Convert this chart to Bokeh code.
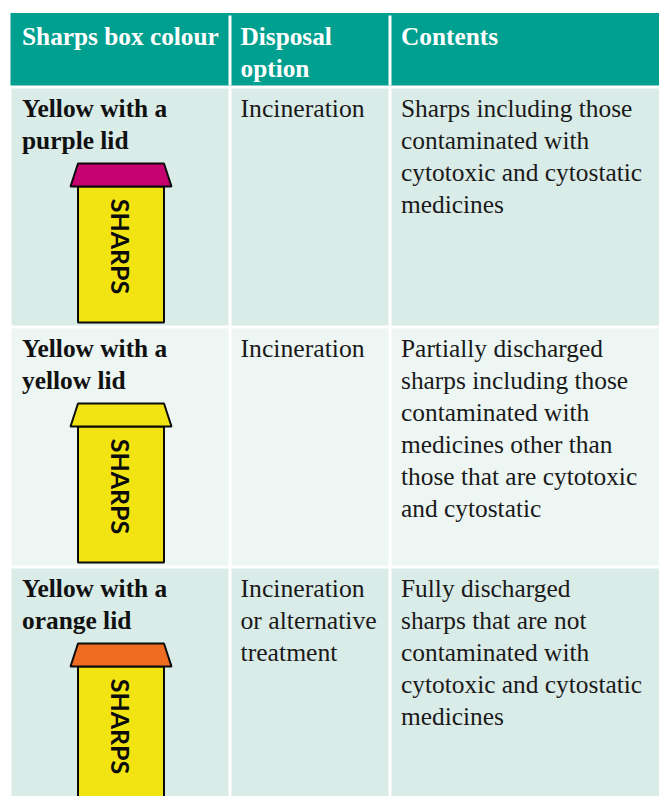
from bokeh.plotting import figure
from bokeh.models import ColumnDataSource, Range1d
from bokeh.core.properties import value
from bokeh.embed import file_html
from bokeh.resources import INLINE
import math

# ---- content ----
headers = [["Sharps box colour"], ["Disposal", "option"], ["Contents"]]
row_titles = [["Yellow with a", "purple lid"], ["Yellow with a", "yellow lid"], ["Yellow with a", "orange lid"]]
row_disposal = [["Incineration"], ["Incineration"], ["Incineration", "or alternative", "treatment"]]
row_contents = [
    ["Sharps including those", "contaminated with", "cytotoxic and cytostatic", "medicines"],
    ["Partially discharged", "sharps including those", "contaminated with", "medicines other than", "those that are cytotoxic", "and cytostatic"],
    ["Fully discharged", "sharps that are not", "contaminated with", "cytotoxic and cytostatic", "medicines"],
]
lid_colours = ["#C6006F", "#F2E413", "#EE6C1F"]
row_fills = ["#DAECE8", "#EDF6F3", "#DAECE8"]
box_label = "SHARPS"

# ---- layout (page pixels) ----
PX0, PX1, PY0, PY1 = 0, 659, 0, 796
col_l = [11, 231, 391]
col_r = [228, 388, 659]
text_x = [21.5, 240, 400.5]
head_top, head_bot = 12.5, 85
row_top = [88, 328, 568]
row_bot = [325, 565, 796]
LINE = 32
TEAL = "#00A090"
SERIF = "Liberation Serif"

p = figure(width=PX1 - PX0, height=PY1 - PY0, output_backend="svg", toolbar_location=None,
           x_range=Range1d(PX0, PX1), y_range=Range1d(PY1, PY0),
           min_border=0, min_border_left=0, min_border_right=0, min_border_top=0, min_border_bottom=0,
           background_fill_color="white", border_fill_color="white", outline_line_color=None)
p.axis.visible = False
p.grid.visible = False

# header band + separators
p.quad(left=[10], right=[659], top=[head_top], bottom=[head_bot], fill_color=TEAL, line_color=None)
p.quad(left=[col_r[0], col_r[1]], right=[col_l[1], col_l[2]], top=[15, 15], bottom=[head_bot, head_bot],
       fill_color="white", line_color=None)

# body cells
ls, rs, ts, bs, fs = [], [], [], [], []
for i in range(3):
    for c in range(3):
        ls.append(col_l[c]); rs.append(col_r[c]); ts.append(row_top[i]); bs.append(row_bot[i]); fs.append(row_fills[i])
p.quad(left=ls, right=rs, top=ts, bottom=bs, fill_color=fs, line_color=None)

# sharps boxes
for i in range(3):
    t = row_top[i]
    p.quad(left=[77.5], right=[163.5], top=[t + 98], bottom=[min(t + 234, PY1 + 10)],
           fill_color="#F2E413", line_color="#0B0B0B", line_width=2)
    p.patch(x=[77.5, 163.5, 171, 70], y=[t + 75, t + 75, t + 98, t + 98],
            fill_color=lid_colours[i], line_color="#0B0B0B", line_width=2)
    p.text(x=[120.5], y=[t + 158], text=[box_label], angle=[-math.pi / 2],
           text_font=value("Lato"), text_font_size="25px", text_font_style="bold",
           text_color="#0B0B0B", text_align="center", text_baseline="middle")

def block(lines, x, y0, size, style, color):
    src = ColumnDataSource(dict(x=[x] * len(lines), y=[y0 + LINE * k for k in range(len(lines))], t=lines))
    p.text(x="x", y="y", text="t", source=src, text_font=value(SERIF), text_font_size=size,
           text_font_style=style, text_color=color, text_align="left", text_baseline="alphabetic")

for c in range(3):
    block(headers[c], text_x[c], 35, "25.3px", "bold", "white")
for i in range(3):
    base = row_top[i] + 19.5
    block(row_titles[i], text_x[0], base, "25.4px", "bold", "#111111")
    block(row_disposal[i], text_x[1], base, "25.7px", "normal", "#1A1A1A")
    block(row_contents[i], text_x[2], base, "25.4px", "normal", "#1A1A1A")

open("out.html", "w").write(file_html(p, INLINE))
